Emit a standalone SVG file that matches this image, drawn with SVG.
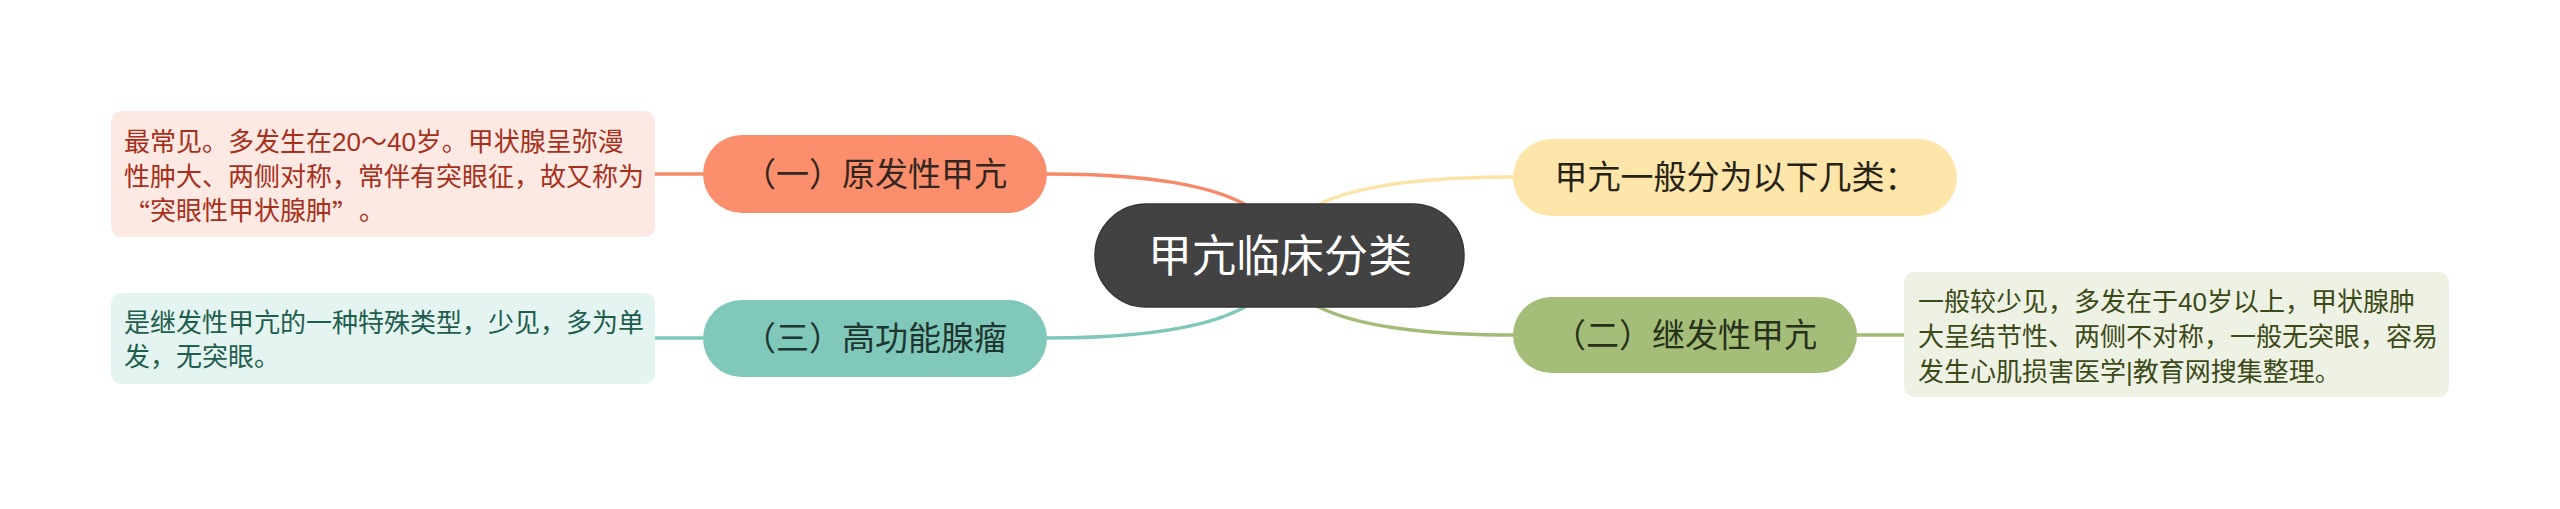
<svg xmlns="http://www.w3.org/2000/svg" width="2560" height="509" viewBox="0 0 2560 509">
<style>
text{font-family:"Liberation Sans","Noto Sans CJK SC",sans-serif;dominant-baseline:central}
.cjk{font-family:"Noto Sans CJK SC","Liberation Sans",sans-serif;font-variant-east-asian:full-width;font-feature-settings:"fwid"}
.topic{font-size:33px;text-anchor:middle}
.detail{font-size:26px}
.conn{fill:none;stroke-width:3.5;stroke-linecap:round}
</style>
<rect width="2560" height="509" fill="#ffffff"/>
<g id="connectors">
<path class="conn" stroke="#f5896a" d="M1047,174 Q1280,174 1280,255"/>
<path class="conn" stroke="#fde3a6" d="M1513,177 Q1280,177 1280,255"/>
<path class="conn" stroke="#a3bb76" d="M1513,335 Q1280,335 1280,255"/>
<path class="conn" stroke="#7fc7b8" d="M1047,338 Q1280,338 1280,255"/>
<path class="conn" stroke="#f5896a" d="M655,174 L703,174"/>
<path class="conn" stroke="#7fc7b8" d="M655,338 L703,338"/>
<path class="conn" stroke="#a3bb76" d="M1857,335 L1904,335"/>
</g>
<g id="root">
<rect x="1095" y="204" width="369" height="103" rx="51.5" fill="#424242" stroke="#363636" stroke-width="1.5"/>
<text x="1280" y="256" font-size="44" fill="#ffffff" text-anchor="middle">甲亢临床分类</text>
</g>
<g id="node-primary">
<rect x="703" y="135" width="344" height="78" rx="39" fill="#fa8e6d"/>
<text class="topic" x="875" y="174" fill="#33261f">（一）原发性甲亢</text>
</g>
<g id="detail-primary">
<rect x="111" y="111" width="544" height="126" rx="10" fill="#fde9e3"/>
<text class="detail" fill="#a6301b"><tspan x="124" y="142">最常见。多发生在20～40岁。甲状腺呈弥漫</tspan><tspan x="124" y="176.5">性肿大、两侧对称，常伴有突眼征，故又称为</tspan><tspan x="124" y="211"><tspan class="cjk">“</tspan>突眼性甲状腺肿<tspan class="cjk">”</tspan><tspan dx="14">。</tspan></tspan></text>
</g>
<g id="node-adenoma">
<rect x="703" y="300" width="344" height="77" rx="38.5" fill="#80c8b9"/>
<text class="topic" x="875" y="338.5" fill="#1f3530">（三）高功能腺瘤</text>
</g>
<g id="detail-adenoma">
<rect x="111" y="293" width="544" height="91" rx="10" fill="#e4f4f0"/>
<text class="detail" fill="#1f5d4e"><tspan x="124" y="323">是继发性甲亢的一种特殊类型，少见，多为单</tspan><tspan x="124" y="357">发，无突眼。</tspan></text>
</g>
<g id="node-intro">
<rect x="1513" y="139" width="444" height="77" rx="38.5" fill="#fee5a9"/>
<text class="topic" x="1736" y="177.5" fill="#262218">甲亢一般分为以下几类：</text>
</g>
<g id="node-secondary">
<rect x="1513" y="297" width="344" height="76" rx="38" fill="#a4bd78"/>
<text class="topic" x="1685" y="335" fill="#27301a">（二）继发性甲亢</text>
</g>
<g id="detail-secondary">
<rect x="1904" y="272" width="545" height="125" rx="10" fill="#eef2e5"/>
<text class="detail" fill="#3c4a17"><tspan x="1918" y="302">一般较少见，多发在于40岁以上，甲状腺肿</tspan><tspan x="1918" y="337">大呈结节性、两侧不对称，一般无突眼，容易</tspan><tspan x="1918" y="372">发生心肌损害医学|教育网搜集整理。</tspan></text>
</g>
</svg>
